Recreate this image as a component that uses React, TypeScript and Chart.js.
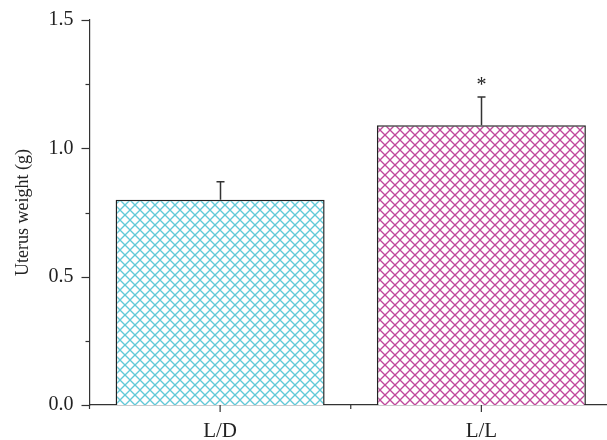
import React, { useEffect, useRef } from "react";
import { Chart, registerables } from "chart.js";

Chart.register(...registerables);

const categories = ["L/D", "L/L"];
const means = [0.8, 1.09];
const errors = [0.07, 0.11];
const marks = ["", "*"];
const hatchColors = ["rgb(98,200,216)", "rgb(192,72,156)"];
const yMajorTicks = [0, 0.5, 1.0, 1.5];

const SERIF = "'Liberation Serif', 'DejaVu Serif', serif";

function makeHatch(color: string): CanvasPattern | string {
  const s = 10;
  const c = document.createElement("canvas");
  c.width = s;
  c.height = s;
  const g = c.getContext("2d");
  if (!g) return color;
  g.fillStyle = "#ffffff";
  g.fillRect(0, 0, s, s);
  g.strokeStyle = color;
  g.lineWidth = 1.3;
  for (const off of [-s, 0, s]) {
    g.beginPath();
    g.moveTo(off, 0);
    g.lineTo(off + s, s);
    g.stroke();
    g.beginPath();
    g.moveTo(off, s);
    g.lineTo(off + s, 0);
    g.stroke();
  }
  const p = g.createPattern(c, "repeat");
  return p || color;
}

const decorPlugin = {
  id: "decor",
  afterDatasetsDraw(chart: any) {
    const ctx = chart.ctx;
    const x = chart.scales.x;
    const y = chart.scales.y;
    const ca = chart.chartArea;
    ctx.save();
    ctx.strokeStyle = "#333";
    ctx.lineWidth = 1.2;
    for (let v = 0; v <= 1.5001; v += 0.25) {
      const py = Math.round(y.getPixelForValue(v)) + 0.5;
      const major = Math.abs(v * 2 - Math.round(v * 2)) < 1e-6;
      ctx.beginPath();
      ctx.moveTo(ca.left, py);
      ctx.lineTo(ca.left - (major ? 8 : 4), py);
      ctx.stroke();
    }
    const n = categories.length;
    for (let i = 0; i < n; i++) {
      const px = x.getPixelForValue(i);
      ctx.beginPath();
      ctx.moveTo(px, ca.bottom);
      ctx.lineTo(px, ca.bottom + 7);
      ctx.stroke();
      const bx = i === 0 ? ca.left : (x.getPixelForValue(i - 1) + px) / 2;
      ctx.beginPath();
      ctx.moveTo(bx, ca.bottom);
      ctx.lineTo(bx, ca.bottom + 4);
      ctx.stroke();
    }
    const meta = chart.getDatasetMeta(0);
    ctx.lineWidth = 1.5;
    ctx.strokeStyle = "#333";
    meta.data.forEach((bar: any, i: number) => {
      const px = Math.round(bar.x) + 0.5;
      const top = y.getPixelForValue(means[i]);
      const eTop = y.getPixelForValue(means[i] + errors[i]);
      ctx.beginPath();
      ctx.moveTo(px, top);
      ctx.lineTo(px, eTop);
      ctx.moveTo(px - 4, eTop);
      ctx.lineTo(px + 4, eTop);
      ctx.stroke();
      if (marks[i]) {
        ctx.fillStyle = "#222";
        ctx.font = `20px ${SERIF}`;
        ctx.textAlign = "center";
        ctx.textBaseline = "middle";
        ctx.fillText(marks[i], px, eTop - 11);
      }
    });
    ctx.restore();
  },
};

export default function App() {
  const ref = useRef<HTMLCanvasElement | null>(null);
  useEffect(() => {
    const canvas = ref.current;
    if (!canvas) return;
    const chart = new Chart(canvas, {
      type: "bar",
      data: {
        labels: categories,
        datasets: [
          {
            data: means,
            backgroundColor: hatchColors.map((c) => makeHatch(c)),
            borderColor: "#222",
            borderWidth: 1.5,
            borderSkipped: "bottom",
            barPercentage: 0.8,
            categoryPercentage: 1.0,
          },
        ],
      },
      options: {
        responsive: false,
        animation: false,
        layout: { padding: { top: 20, right: 0, left: 0, bottom: 0 } },
        plugins: {
          legend: { display: false },
          tooltip: { enabled: false },
        },
        scales: {
          x: {
            grid: { display: false, drawTicks: false },
            border: { display: true, color: "#333", width: 1.2 },
            ticks: {
              color: "#222",
              font: { family: SERIF, size: 21 },
              padding: 14,
            },
            afterFit: (s: any) => {
              s.height = 35;
            },
          },
          y: {
            min: 0,
            max: 1.5,
            afterBuildTicks: (s: any) => {
              s.ticks = yMajorTicks.map((v) => ({ value: v }));
            },
            grid: { display: false, drawTicks: false },
            border: { display: true, color: "#333", width: 1.2 },
            ticks: {
              color: "#222",
              font: { family: SERIF, size: 20 },
              padding: 16,
              callback: (v: any) => Number(v).toFixed(1),
            },
            title: {
              display: true,
              text: "Uterus weight (g)",
              color: "#222",
              font: { family: SERIF, size: 18 },
              padding: { top: 12, bottom: 0 },
            },
            afterFit: (s: any) => {
              s.width = 89.5;
              s.paddingTop = 0;
              s.paddingBottom = 0;
            },
          },
        },
      },
      plugins: [decorPlugin],
    });
    return () => chart.destroy();
  }, []);
  return (
    <div
      style={{
        position: "absolute",
        left: 0,
        top: 0,
        width: 607,
        height: 440,
        overflow: "hidden",
        background: "#fff",
      }}
    >
      <canvas ref={ref} width={612} height={440} style={{ display: "block", width: 612, height: 440 }} />
    </div>
  );
}
